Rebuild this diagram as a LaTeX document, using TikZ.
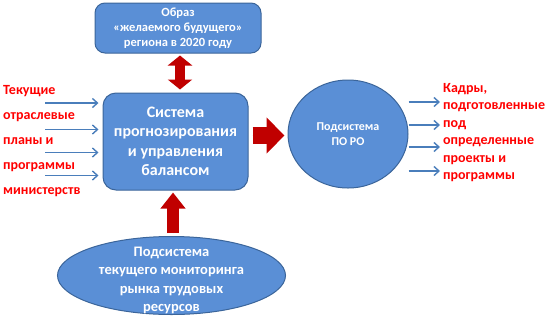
\documentclass[tikz,border=0pt]{standalone}
\usepackage{fontspec}
\setmainfont{Carlito}
\usepackage{xcolor}
\usetikzlibrary{shapes.geometric,arrows.meta,positioning}

\definecolor{shapeblue}{HTML}{5A8FD6}
\definecolor{edgeblue}{HTML}{3B659A}
\definecolor{arrowred}{HTML}{C00000}
\definecolor{lblred}{HTML}{FF0000}
\definecolor{thinblue}{HTML}{4A7EBB}

\begin{document}
\begin{tikzpicture}[
  x=1pt, y=-1pt,
  box/.style={rectangle, draw=edgeblue, fill=shapeblue, line width=1pt, rounded corners=10pt, align=center, text=white, font=\bfseries, inner sep=0pt},
  oval/.style={ellipse, draw=edgeblue, fill=shapeblue, line width=1pt, align=center, text=white, font=\bfseries, inner sep=0pt},
  bigarr/.style={draw=arrowred, fill=arrowred},
  inarr/.style={-{Straight Barb[length=5pt,width=9pt,line width=1.4pt]}, draw=thinblue, line width=1.5pt},
  redlbl/.style={align=left, text=lblred, font=\bfseries, inner sep=0pt}
]
\useasboundingbox (0,0) rectangle (553,322);

% central system and its neighbours
\node[box, minimum width=166pt, minimum height=50pt, font=\bfseries\fontsize{12.5}{15}\selectfont] (goal) at (178,28)
  {Образ\\«желаемого будущего»\\региона в 2020 году};
\node[box, minimum width=145pt, minimum height=97pt, rounded corners=13pt, font=\bfseries\fontsize{16}{19.5}\selectfont] (sys) at (175.5,141.5)
  {Система\\прогнозирования\\и управления\\балансом};
\node[oval, minimum width=120pt, minimum height=108pt, font=\bfseries\fontsize{12}{15.5}\selectfont] (po) at (348,134)
  {Подсистема\\ПО РО};
\node[oval, minimum width=228pt, minimum height=78pt] (mon) at (171.5,275.5) {};
\node[align=center, text=white, inner sep=0pt, font=\bfseries\fontsize{14.5}{18.3}\selectfont] (monlbl) at (171.5,280.5)
  {Подсистема\\текущего мониторинга\\рынка трудовых\\ресурсов};

% red labels
\node[redlbl, anchor=north west, font=\bfseries\fontsize{14}{25}\selectfont] (plans) at (3,85)
  {Текущие\\отраслевые\\планы и\\программы\\министерств};
\node[redlbl, anchor=north west, font=\bfseries\fontsize{14}{17.5}\selectfont] (staff) at (443,83)
  {Кадры,\\подготовленные\\под\\определенные\\проекты и\\программы};

% thick red arrows
\draw[bigarr, line width=10pt, {Triangle[length=10pt,width=24pt]}-{Triangle[length=10pt,width=24pt]}, shorten <=2pt, shorten >=3pt]
  ([xshift=2pt]goal.south) -- ([xshift=2pt]goal.south |- sys.north);
\draw[bigarr, line width=17pt, -{Triangle[length=18pt,width=35pt]}, shorten <=4pt, shorten >=3pt]
  ([yshift=6pt]sys.east) -- ([yshift=6pt]sys.east -| po.west);
\draw[bigarr, line width=12pt, -{Triangle[length=16pt,width=24pt]}, shorten <=3pt, shorten >=2pt]
  ([xshift=1.5pt]mon.north) -- ([xshift=1.5pt]mon.north |- sys.south);

% thin blue arrows
\foreach \y [count=\i] in {103,129.5,152.5,175.5} {
  \coordinate (in\i) at (45,\y);
  \draw[inarr, shorten >=4pt] (in\i) -- (in\i -| sys.west);
}
\foreach \y [count=\i] in {102,125,147,171} {
  \coordinate (out\i) at (440,\y);
  \draw[inarr] (out\i -| po.east) -- (out\i);
}
\end{tikzpicture}
\end{document}
